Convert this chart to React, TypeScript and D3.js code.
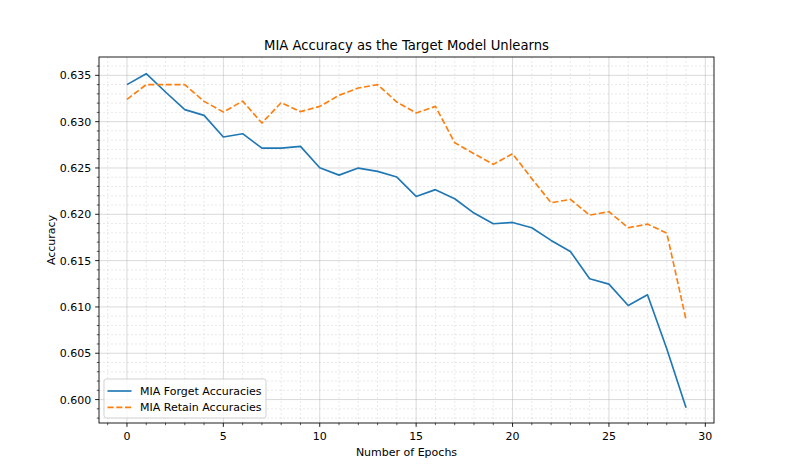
import React from "react";
import * as d3 from "d3";

const epochs = d3.range(0, 30);
const forgetAcc = [
  0.6340, 0.63518, 0.6332, 0.6313, 0.63068, 0.62834, 0.6287, 0.62715, 0.62715, 0.62733,
  0.62503, 0.62423, 0.62499, 0.62463, 0.62402, 0.62193, 0.62266, 0.62168, 0.62013, 0.61898,
  0.61912, 0.61855, 0.61718, 0.61599, 0.61304, 0.61246, 0.61016, 0.61131, 0.60548, 0.59911,
];
const retainAcc = [
  0.63241, 0.6340, 0.6340, 0.6340, 0.63219, 0.63104, 0.63222, 0.62985, 0.63205, 0.63108,
  0.63165, 0.63284, 0.63363, 0.6340, 0.63212, 0.63093, 0.63165, 0.62773, 0.62654, 0.62539,
  0.62654, 0.62384, 0.62125, 0.62161, 0.61991, 0.62028, 0.61855, 0.61894, 0.61797, 0.60862,
];
const xTicks = [0, 5, 10, 15, 20, 25, 30];
const yTicks = [0.6, 0.605, 0.61, 0.615, 0.62, 0.625, 0.63, 0.635];
const seriesNames = ["MIA Forget Accuracies", "MIA Retain Accuracies"];
const colors = ["#1f77b4", "#ff7f0e"];

const W = 793, H = 476;
const L = 99, R = 714, T = 57, B = 423;
const FONT = "DejaVu Sans, sans-serif";
const DASH = "6.1,2.64";

export default function App() {
  const x = d3.scaleLinear().domain([-1.45, 30.45]).range([L, R]);
  const y = d3.scaleLinear().domain([0.59747, 0.63698]).range([B, T]);
  const xMinor = d3.range(-1, 31).filter((v) => v % 5 !== 0);
  const yMinor = d3.range(598, 637).map((v) => v / 1000).filter((v) => Math.round(v * 1000) % 5 !== 0);
  const line = d3.line<number>().x((_, i) => x(epochs[i])).y((d) => y(d));
  const data = [forgetAcc, retainAcc];
  return (
    <svg width={W} height={H} style={{ position: "absolute", left: 0, top: 0 }} fontFamily={FONT}>
      <rect width={W} height={H} fill="#fff" />
      {/* minor grid */}
      {xMinor.map((v) => (
        <line key={"xm" + v} x1={x(v)} x2={x(v)} y1={T} y2={B} stroke="#b0b0b0" strokeOpacity={0.35} strokeWidth={0.8} strokeDasharray="2,2" />
      ))}
      {yMinor.map((v) => (
        <line key={"ym" + v} x1={L} x2={R} y1={y(v)} y2={y(v)} stroke="#b0b0b0" strokeOpacity={0.35} strokeWidth={0.8} strokeDasharray="2,2" />
      ))}
      {/* major grid */}
      {xTicks.map((v) => (
        <line key={"xg" + v} x1={x(v)} x2={x(v)} y1={T} y2={B} stroke="#b0b0b0" strokeOpacity={0.6} strokeWidth={0.8} />
      ))}
      {yTicks.map((v) => (
        <line key={"yg" + v} x1={L} x2={R} y1={y(v)} y2={y(v)} stroke="#b0b0b0" strokeOpacity={0.6} strokeWidth={0.8} />
      ))}
      {/* lines */}
      {data.map((d, i) => (
        <path key={i} d={line(d) || ""} fill="none" stroke={colors[i]} strokeWidth={1.65}
          strokeDasharray={i === 1 ? DASH : undefined} strokeLinejoin="round" />
      ))}
      {/* frame */}
      <rect x={L} y={T} width={R - L} height={B - T} fill="none" stroke="#000" strokeWidth={0.88} />
      {/* x ticks */}
      {xTicks.map((v) => (
        <g key={"xt" + v}>
          <line x1={x(v)} x2={x(v)} y1={B} y2={B + 3.85} stroke="#000" strokeWidth={0.88} />
          <text x={x(v)} y={B + 16.5} fontSize={11} textAnchor="middle">{v}</text>
        </g>
      ))}
      {xMinor.map((v) => (
        <line key={"xmt" + v} x1={x(v)} x2={x(v)} y1={B} y2={B + 2.2} stroke="#000" strokeWidth={0.66} />
      ))}
      {yTicks.map((v) => (
        <g key={"yt" + v}>
          <line x1={L} x2={L - 3.85} y1={y(v)} y2={y(v)} stroke="#000" strokeWidth={0.88} />
          <text x={L - 7.7} y={y(v) + 4} fontSize={11} textAnchor="end">{v.toFixed(3)}</text>
        </g>
      ))}
      {yMinor.map((v) => (
        <line key={"ymt" + v} x1={L} x2={L - 2.2} y1={y(v)} y2={y(v)} stroke="#000" strokeWidth={0.66} />
      ))}
      {/* labels */}
      <text x={(L + R) / 2} y={50} fontSize={13.2} textAnchor="middle">MIA Accuracy as the Target Model Unlearns</text>
      <text x={(L + R) / 2} y={456} fontSize={11} textAnchor="middle">Number of Epochs</text>
      <text transform={`translate(55,${(T + B) / 2}) rotate(-90)`} fontSize={11} textAnchor="middle">Accuracy</text>
      {/* legend */}
      <g>
        <rect x={104} y={379} width={162} height={39} rx={2.5} fill="#fff" fillOpacity={0.8} stroke="#cccccc" strokeWidth={0.88} />
        {seriesNames.map((n, i) => (
          <g key={n}>
            <line x1={107.5} x2={131.5} y1={391 + i * 16.3} y2={391 + i * 16.3} stroke={colors[i]} strokeWidth={1.65}
              strokeDasharray={i === 1 ? DASH : undefined} />
            <text x={140} y={395 + i * 16.3} fontSize={11}>{n}</text>
          </g>
        ))}
      </g>
    </svg>
  );
}
